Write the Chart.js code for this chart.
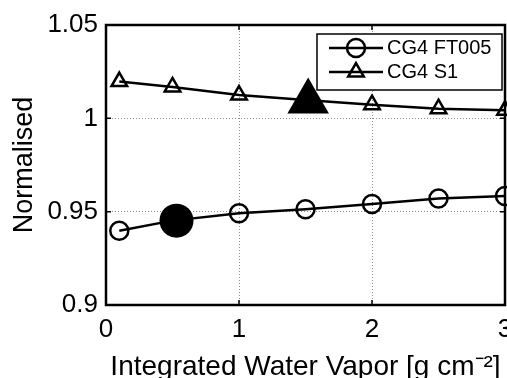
<!DOCTYPE html>
<html>
<head>
<meta charset="utf-8">
<script src="https://cdn.jsdelivr.net/npm/chart.js@4"></script>
<style>
html, body { margin: 0; padding: 0; background: #fff; overflow: hidden; }
#wrap { width: 507px; height: 378px; position: relative; }
</style>
</head>
<body>
<div id="wrap"><canvas id="chart"></canvas></div>
<script>
// Values
const iwv = [0.1, 0.5, 1, 1.5, 2, 2.5, 3];
const ft005 = [0.9398, 0.9452, 0.9491, 0.9513, 0.9541, 0.9571, 0.9584];
const s1 = [1.0197, 1.0168, 1.0125, 1.0098, 1.0073, 1.0052, 1.0043];

// the two big filled markers
const ft005RefX = [0.53];
const ft005RefY = [0.9452];
const s1RefX = [1.52];
const s1RefY = [1.009];

const seriesNames = ['CG4 FT005', 'CG4 S1'];
const xTicks = [0, 1, 2, 3];
const yTicks = [0.9, 0.95, 1, 1.05];
const yTickLabels = ['0.9', '0.95', '1', '1.05'];

const FONT = '"Liberation Sans", Arial, Helvetica, sans-serif';

function pts(xs, ys) {
    return xs.map((x, i) => ({ x: x, y: ys[i] }));
}

// Matlab style box, inward ticks and the legend
const matlabFrame = {
    id: 'matlabFrame',
    afterDatasetsDraw(chart) {
        const ctx = chart.ctx;
        const a = chart.chartArea;
        const xs = chart.scales.x, ys = chart.scales.y;
        ctx.save();
        ctx.strokeStyle = '#000';
        ctx.lineWidth = 2.5;
        ctx.strokeRect(a.left, a.top, a.right - a.left, a.bottom - a.top);

        // inward ticks
        ctx.lineWidth = 1.5;
        ctx.beginPath();
        xTicks.forEach(v => {
            const px = xs.getPixelForValue(v);
            ctx.moveTo(px, a.bottom); ctx.lineTo(px, a.bottom - 5);
            ctx.moveTo(px, a.top); ctx.lineTo(px, a.top + 5);
        });
        yTicks.forEach(v => {
            const py = ys.getPixelForValue(v);
            ctx.moveTo(a.left, py); ctx.lineTo(a.left + 5, py);
            ctx.moveTo(a.right, py); ctx.lineTo(a.right - 5, py);
        });
        ctx.stroke();

        // legend
        const bx = 317, by = 34, bw = 185, bh = 56;
        ctx.fillStyle = '#fff';
        ctx.fillRect(bx, by, bw, bh);
        ctx.lineWidth = 1.5;
        ctx.strokeRect(bx, by, bw, bh);
        const styles = ['circle', 'triangle'];
        const radii = [9, 9];
        seriesNames.forEach((name, i) => {
            const ry = by + 14 + i * 24;
            ctx.lineWidth = 2.5;
            ctx.strokeStyle = '#000';
            ctx.beginPath();
            ctx.moveTo(329, ry); ctx.lineTo(383, ry);
            ctx.stroke();
            ctx.fillStyle = 'rgba(0,0,0,0)';
            Chart.helpers.drawPoint(ctx, { pointStyle: styles[i], radius: radii[i], borderWidth: 2.5, rotation: 0 }, 356, ry);
            ctx.fillStyle = '#000';
            ctx.font = '20px ' + FONT;
            ctx.textBaseline = 'middle';
            ctx.textAlign = 'left';
            ctx.fillText(name, 387, ry);
        });
        ctx.restore();
    }
};

new Chart(document.getElementById('chart'), {
    type: 'scatter',
    data: {
        datasets: [
            {
                label: seriesNames[0],
                data: pts(iwv, ft005),
                showLine: true,
                borderColor: '#000',
                borderWidth: 2.5,
                pointStyle: 'circle',
                pointRadius: 9,
                pointBorderWidth: 2.5,
                pointBorderColor: '#000',
                pointBackgroundColor: 'rgba(0,0,0,0)',
                clip: false
            },
            {
                label: seriesNames[1],
                data: pts(iwv, s1),
                showLine: true,
                borderColor: '#000',
                borderWidth: 2.5,
                pointStyle: 'triangle',
                pointRadius: 9,
                pointBorderWidth: 2.5,
                pointBorderColor: '#000',
                pointBackgroundColor: 'rgba(0,0,0,0)',
                clip: false
            },
            {
                label: 'ref ft005',
                data: pts(ft005RefX, ft005RefY),
                pointStyle: 'circle',
                pointRadius: 17,
                pointBorderWidth: 0,
                pointBackgroundColor: '#000',
                clip: false
            },
            {
                label: 'ref s1',
                data: pts(s1RefX, s1RefY),
                pointStyle: 'triangle',
                pointRadius: 24,
                pointBorderWidth: 0,
                pointBackgroundColor: '#000',
                clip: false
            }
        ]
    },
    options: {
        animation: false,
        responsive: true,
        maintainAspectRatio: false,
        layout: { autoPadding: false, padding: { left: 0, right: 2, top: 25, bottom: 0 } },
        plugins: {
            legend: { display: false },
            tooltip: { enabled: false }
        },
        scales: {
            x: {
                type: 'linear',
                min: 0,
                max: 3,
                afterBuildTicks: s => { s.ticks = xTicks.map(v => ({ value: v })); },
                afterFit: s => { s.height = 73; s.paddingLeft = 0; s.paddingRight = 0; },
                grid: { color: '#8c8c8c', lineWidth: 1, drawTicks: false },
                border: { display: false, dash: [1, 2] },
                ticks: {
                    color: '#000',
                    padding: 9,
                    maxRotation: 0,
                    font: { family: FONT, size: 26 }
                },
                title: {
                    display: true,
                    text: 'Integrated Water Vapor [g cm\u207B\u00B2]',
                    color: '#000',
                    font: { family: FONT, size: 28 },
                    padding: { top: 0, bottom: -6 }
                }
            },
            y: {
                type: 'linear',
                min: 0.9,
                max: 1.05,
                afterBuildTicks: s => { s.ticks = yTicks.map(v => ({ value: v })); },
                afterFit: s => { s.width = 106; },
                grid: { color: '#8c8c8c', lineWidth: 1, drawTicks: false },
                border: { display: false, dash: [1, 2] },
                ticks: {
                    color: '#000',
                    padding: 8,
                    font: { family: FONT, size: 26 },
                    callback: (v) => yTickLabels[yTicks.indexOf(v)]
                },
                title: {
                    display: true,
                    text: 'Normalised',
                    color: '#000',
                    font: { family: FONT, size: 27 },
                    padding: { top: 8, bottom: 0 }
                }
            }
        }
    },
    plugins: [matlabFrame]
});
</script>
</body>
</html>
